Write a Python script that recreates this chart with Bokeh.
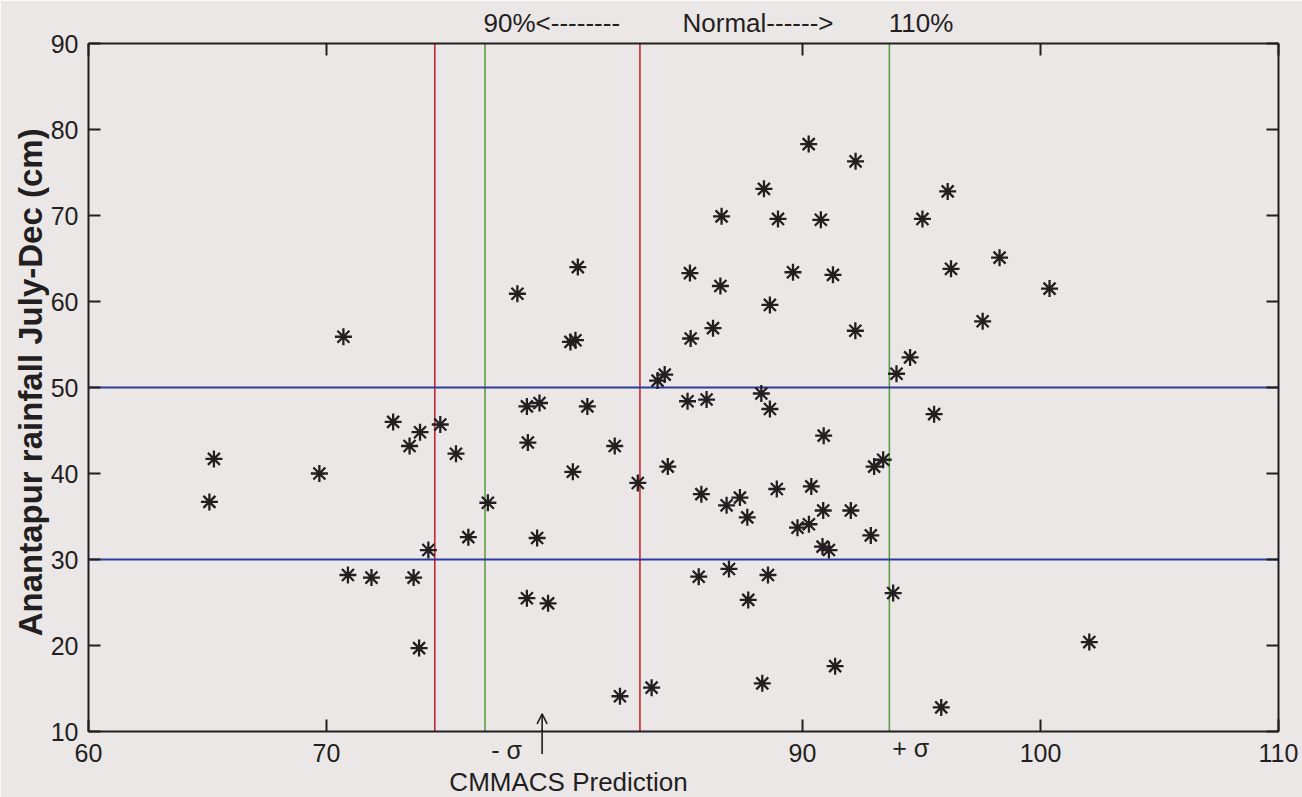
import math
from bokeh.plotting import figure
from bokeh.models import (LinearAxis, FixedTicker, Span, Arrow, OpenHead,
                          ColumnDataSource, Range1d)
from bokeh.core.properties import value
from bokeh.embed import file_html
from bokeh.resources import INLINE

# ---------------- data ----------------
x_vals = [65.08, 65.27, 69.70, 70.71, 70.90, 71.89, 72.80, 73.49, 73.93, 73.66,
          73.89, 74.28, 74.78, 75.44, 75.96, 76.78, 78.02, 78.42, 78.95, 78.46,
          78.85, 78.42, 79.31, 80.25, 80.46, 80.56, 80.35, 80.96, 82.11, 82.33,
          83.08, 83.66, 83.91, 84.21, 84.34, 85.27, 85.30, 85.17, 85.97, 85.64,
          85.75, 86.24, 86.60, 86.55, 86.81, 86.91, 87.37, 87.68, 87.72, 88.38,
          88.27, 88.31, 88.63, 88.63, 88.55, 88.97, 88.92, 89.60, 89.79, 90.26,
          90.27, 90.37, 90.77, 90.89, 90.87, 90.84, 91.11, 91.28, 91.37, 92.03,
          92.23, 92.22, 92.87, 93.01, 93.39, 93.81, 93.95, 94.52, 95.04, 95.53,
          95.83, 96.10, 96.24, 97.57, 98.28, 100.38, 102.05]
rain_vals = [36.7, 41.7, 40.0, 55.9, 28.2, 27.9, 46.0, 43.2, 44.8, 27.9,
             19.7, 31.1, 45.7, 42.3, 32.6, 36.6, 60.9, 47.8, 48.2, 43.6,
             32.5, 25.5, 24.9, 55.3, 55.5, 64.0, 40.2, 47.8, 43.2, 14.1,
             38.9, 15.1, 50.8, 51.5, 40.8, 63.3, 55.7, 48.4, 48.6, 28.0,
             37.6, 56.9, 69.9, 61.8, 36.3, 28.9, 37.2, 34.9, 25.3, 73.1,
             49.3, 15.6, 59.6, 47.5, 28.2, 69.6, 38.2, 63.4, 33.7, 78.3,
             34.1, 38.5, 69.5, 44.4, 35.7, 31.5, 31.1, 63.1, 17.6, 35.7,
             76.3, 56.6, 32.8, 40.8, 41.6, 26.1, 51.6, 53.5, 69.6, 46.9,
             12.8, 72.8, 63.8, 57.7, 65.1, 61.5, 20.4]

red_lines = [74.55, 83.17]        # 90% / 110% of normal
green_lines = [76.66, 93.65]      # -sigma / +sigma
blue_lines = [30, 50]             # rainfall thresholds
prediction = 79.06                # CMMACS prediction
x_ticks = [60, 70, 90, 100, 110]
y_ticks = [10, 20, 30, 40, 50, 60, 70, 80, 90]
sigma_labels = ["- σ", "+ σ"]
sigma_x = [77.57, 94.55]
range_texts = ["90%<--------", "Normal------>", "110%"]
range_x = [76.60, 84.96, 96.34]
y_title = "Anantapur rainfall July-Dec (cm)"
x_note = "CMMACS Prediction"

# ---------------- layout / styling ----------------
BG = "#ece7e7"
INK = "#231e20"
FONT = "Liberation Sans"
W, H = 1302, 797
FL, FR, FT, FB = 88, 24, 43, 66          # borders around the frame

p = figure(width=W, height=H, x_range=Range1d(60, 110), y_range=Range1d(10, 90),
           output_backend="svg", toolbar_location=None,
           min_border_left=FL, min_border_right=FR, min_border_top=FT, min_border_bottom=FB,
           background_fill_color=BG, border_fill_color=BG, outline_line_color=None)
p.grid.visible = False

def style_axis(ax, ticks, labels=True):
    ax.ticker = FixedTicker(ticks=ticks)
    ax.axis_line_width = 2
    ax.axis_line_color = INK
    ax.major_tick_in = 12
    ax.major_tick_out = 0
    ax.major_tick_line_width = 2
    ax.major_tick_line_color = INK
    ax.minor_tick_in = 0
    ax.minor_tick_out = 0
    ax.minor_tick_line_color = None
    ax.major_label_text_font = FONT
    ax.major_label_text_font_size = "25px"
    ax.major_label_text_color = INK
    if not labels:
        ax.major_label_overrides = {t: "" for t in ticks}
        ax.major_label_standoff = 0

style_axis(p.xaxis[0], x_ticks)
p.xaxis[0].major_label_standoff = 12
style_axis(p.yaxis[0], y_ticks)
p.yaxis[0].major_label_standoff = 10

top_ax = LinearAxis()
style_axis(top_ax, x_ticks, labels=False)
p.add_layout(top_ax, "above")
right_ax = LinearAxis()
style_axis(right_ax, y_ticks, labels=False)
p.add_layout(right_ax, "right")

# reference lines
for v in red_lines:
    p.add_layout(Span(location=v, dimension="height", line_color="#c22a34", line_width=1.6, level="underlay"))
for v in green_lines:
    p.add_layout(Span(location=v, dimension="height", line_color="#5f9c46", line_width=1.6, level="underlay"))
for v in blue_lines:
    p.add_layout(Span(location=v, dimension="width", line_color="#2b3c9c", line_width=2, level="underlay"))

src = ColumnDataSource(data=dict(x=x_vals, y=rain_vals))
p.scatter("x", "y", source=src, marker="asterisk", size=17, line_color=INK, line_width=2.3)

# ---------------- texts outside the frame (overlay level, data coordinates) ----------------
def txt(xs, ys, texts, align="left", size="25px", angle=0.0, style="normal", baseline="alphabetic"):
    p.text(x=xs, y=ys, text=texts, text_align=align, text_baseline=baseline, angle=angle,
           text_font=value(FONT), text_font_size=value(size), text_font_style=style,
           text_color=INK, level="overlay")

txt([57.56], [50.6], [y_title], align="center", size="33px", angle=math.pi / 2,
    style="bold", baseline="middle")
txt(range_x[:2], [92.33, 92.33], range_texts[:2], align="left", size="26px")
txt(range_x[2:], [92.33], range_texts[2:], align="right", size="26px")
txt(sigma_x, [7.9, 8.1], sigma_labels, align="center")
txt([80.17], [4.15], [x_note], align="center", size="26px")

# prediction arrow: head inside the frame, shaft continued below the axis
p.add_layout(Arrow(end=OpenHead(size=10, line_width=1.6, line_color=INK),
                   x_start=prediction, y_start=7.38, x_end=prediction, y_end=12.05,
                   line_width=1.6, line_color=INK))
p.segment(x0=[prediction], y0=[7.38], x1=[prediction], y1=[10.2],
          line_width=1.6, line_color=INK, level="overlay")

open("out.html", "w").write(file_html(p, INLINE))
